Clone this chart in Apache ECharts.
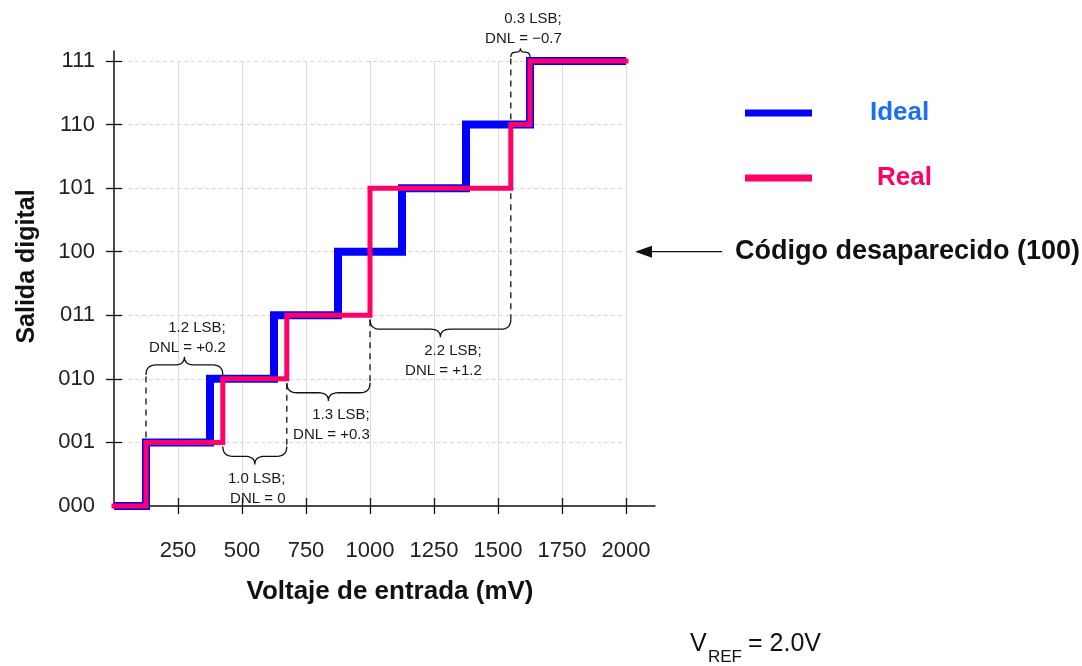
<!DOCTYPE html>
<html>
<head>
<meta charset="utf-8">
<script src="https://cdn.jsdelivr.net/npm/echarts@6/dist/echarts.min.js"></script>
<style>
html, body { margin: 0; padding: 0; background: #fff; }
#chart { width: 1082px; height: 666px; }
</style>
</head>
<body>
<div id="chart"></div>
<script>
// voltaje (mV) donde empieza cada codigo
const idealEdges = [0, 125, 375, 625, 875, 1125, 1375, 1625, 2000];
const idealCodes = [0, 1, 2, 3, 4, 5, 6, 7, 7];
const realEdges = [0, 125, 425, 675, 1000, 1550, 1625, 2000];
const realCodes = [0, 1, 2, 3, 5, 6, 7, 7];

const xTicks = [250, 500, 750, 1000, 1250, 1500, 1750, 2000];
const yTicks = [0, 1, 2, 3, 4, 5, 6, 7];
const codeLabels = ['000', '001', '010', '011', '100', '101', '110', '111'];

// anotaciones DNL: ancho de cada codigo real
const dnlFrom = [125, 425, 675, 1000, 1550];
const dnlTo = [425, 675, 1000, 1550, 1625];
const dnlCode = [1, 2, 3, 5, 6];
const dnlBase = [2, 1, 2, 3, 7];
const dnlLsb = ['1.2 LSB;', '1.0 LSB;', '1.3 LSB;', '2.2 LSB;', '0.3 LSB;'];
const dnlText = ['DNL = +0.2', 'DNL = 0', 'DNL = +0.3', 'DNL = +1.2', 'DNL = \u22120.7'];
const missingCode = 4;

const FONT = '"Liberation Sans", Arial, Helvetica, sans-serif';
const BLUE = '#0000ff';
const PINK = '#ff0066';

const chart = echarts.init(document.getElementById('chart'));

const option = {
    animation: false,
    backgroundColor: '#fff',
    textStyle: { fontFamily: FONT },
    grid: [
        { left: 114, top: 61, width: 512, height: 445 },
        { left: 114, top: 51, width: 541, height: 455 },
    ],
    legend: [
        {
            left: 745,
            top: 98,
            padding: 0,
            icon: 'rect',
            itemWidth: 67,
            itemHeight: 7,
            selectedMode: false,
            textStyle: { fontSize: 26, fontWeight: 'bold', lineHeight: 30 },
            data: [{
                name: 'Ideal',
                itemStyle: { color: BLUE },
                textStyle: { color: '#1a6ff2', padding: [0, 0, 0, 53] },
            }],
        },
        {
            left: 745,
            top: 163,
            padding: 0,
            icon: 'rect',
            itemWidth: 67,
            itemHeight: 7,
            selectedMode: false,
            textStyle: { fontSize: 26, fontWeight: 'bold', lineHeight: 30 },
            data: [{
                name: 'Real',
                itemStyle: { color: PINK },
                textStyle: { color: PINK, padding: [0, 0, 0, 60] },
            }],
        },
    ],
    xAxis: [
        {
            gridIndex: 0,
            type: 'value',
            min: 0,
            max: 2000,
            interval: 250,
            offset: -8,
            axisLine: { show: false },
            axisTick: {
                show: true,
                length: 16,
                customValues: xTicks,
                lineStyle: { color: '#111', width: 1.3 },
            },
            axisLabel: {
                customValues: xTicks,
                margin: 42,
                fontSize: 22,
                color: '#222',
                formatter: (v) => String(v),
            },
            splitLine: { show: true, lineStyle: { color: '#dcdcdc', width: 1 } },
            name: 'Voltaje de entrada (mV)',
            nameLocation: 'middle',
            nameGap: 81,
            nameTextStyle: {
                fontSize: 26,
                fontWeight: 'bold',
                color: '#111',
                padding: [0, 0, 0, 40],
            },
        },
        {
            gridIndex: 1,
            type: 'value',
            min: 0,
            max: 1,
            axisLine: { show: true, lineStyle: { color: '#111', width: 1.5 } },
            axisTick: { show: false },
            axisLabel: { show: false },
            splitLine: { show: false },
        },
    ],
    yAxis: [
        {
            gridIndex: 0,
            type: 'value',
            min: 0,
            max: 7,
            interval: 1,
            offset: -8,
            axisLine: { show: false },
            axisTick: {
                show: true,
                length: 16,
                customValues: yTicks.slice(1),
                lineStyle: { color: '#111', width: 1.3 },
            },
            axisLabel: {
                customValues: yTicks,
                margin: 27,
                fontSize: 22,
                color: '#222',
                formatter: (v) => codeLabels[v],
            },
            splitLine: {
                show: true,
                lineStyle: { color: '#d6d6d6', width: 1, type: [4, 3] },
            },
            name: 'Salida digital',
            nameLocation: 'middle',
            nameGap: 82,
            nameTextStyle: {
                fontSize: 25,
                fontWeight: 'bold',
                color: '#111',
                padding: [0, 0, 0, 34],
            },
        },
        {
            gridIndex: 1,
            type: 'value',
            min: 0,
            max: 1,
            axisLine: { show: true, lineStyle: { color: '#111', width: 1.5 } },
            axisTick: { show: false },
            axisLabel: { show: false },
            splitLine: { show: false },
        },
    ],
    series: [
        {
            name: 'Ideal',
            type: 'line',
            step: 'end',
            xAxisIndex: 0,
            yAxisIndex: 0,
            symbol: 'none',
            clip: false,
            color: BLUE,
            lineStyle: { color: BLUE, width: 8, join: 'miter', cap: 'butt' },
            data: idealEdges.map((x, i) => [x, idealCodes[i]]),
            z: 3,
        },
        {
            name: 'Real',
            type: 'line',
            step: 'end',
            xAxisIndex: 0,
            yAxisIndex: 0,
            symbol: 'none',
            clip: false,
            color: PINK,
            lineStyle: { color: PINK, width: 5, join: 'miter', cap: 'square' },
            data: realEdges.map((x, i) => [x, realCodes[i]]),
            z: 4,
        },
    ],
};

chart.setOption(option);

// ---- anotaciones (llaves, lineas de trazos, textos) ----
const px = (x, y) => chart.convertToPixel({ gridIndex: 0 }, [x, y]);
const measure = document.createElement('canvas').getContext('2d');
measure.font = '15px ' + FONT;

// curva cuadratica muestreada
function quad(pts, a, c, b) {
    for (let t = 0.125; t <= 1.0001; t += 0.125) {
        const u = 1 - t;
        pts.push([
            u * u * a[0] + 2 * u * t * c[0] + t * t * b[0],
            u * u * a[1] + 2 * u * t * c[1] + t * t * b[1],
        ]);
    }
}

function bracePoints(x1, x2, y0, dir, h) {
    const xm = (x1 + x2) / 2;
    const r = Math.min(10, (x2 - x1) / 4);
    const ym = y0 + dir * h * 0.55;
    const yt = y0 + dir * h;
    const pts = [[x1, y0]];
    quad(pts, [x1, y0], [x1, ym], [x1 + r, ym]);
    pts.push([xm - r, ym]);
    quad(pts, [xm - r, ym], [xm, ym], [xm, yt]);
    quad(pts, [xm, yt], [xm, ym], [xm + r, ym]);
    pts.push([x2 - r, ym]);
    quad(pts, [x2 - r, ym], [x2, ym], [x2, y0]);
    return pts;
}

const graphics = [];
dnlFrom.forEach((from, i) => {
    const up = dnlBase[i] > dnlCode[i];
    const dir = up ? -1 : 1;
    const p1 = px(from, dnlBase[i]);
    const p2 = px(dnlTo[i], dnlBase[i]);
    const y0 = p1[1] + dir * 4;
    const h = Math.min(18, (p2[0] - p1[0]) / 2.2);
    graphics.push({
        type: 'polyline',
        shape: { points: bracePoints(p1[0], p2[0], y0, dir, h) },
        style: { fill: null, stroke: '#111', lineWidth: 1.3 },
        z: 10,
    });
    // linea de trazos desde el escalon hasta la llave
    const dashX = up ? from : dnlTo[i];
    const d = px(dashX, dnlCode[i]);
    graphics.push({
        type: 'line',
        shape: { x1: d[0], y1: d[1] + dir * 5, x2: d[0], y2: y0 },
        style: { stroke: '#111', lineWidth: 1.3, lineDash: [6, 5] },
        z: 10,
    });
    const xm = (p1[0] + p2[0]) / 2;
    const w = measure.measureText(dnlText[i]).width;
    const yt = y0 + dir * h;
    graphics.push({
        type: 'text',
        x: xm + w / 2 + 3,
        y: up ? yt + 1 : yt + 4,
        style: {
            text: dnlLsb[i] + '\n' + dnlText[i],
            font: '15px ' + FONT,
            lineHeight: 20,
            fill: '#1a1a1a',
            align: 'right',
            verticalAlign: up ? 'bottom' : 'top',
        },
        z: 10,
    });
});

// flecha hacia el codigo desaparecido
const gridRight = px(2000, 0)[0];
const yMiss = px(0, missingCode)[1];
graphics.push({
    type: 'line',
    shape: { x1: gridRight + 24, y1: yMiss, x2: gridRight + 96, y2: yMiss },
    style: { stroke: '#111', lineWidth: 1.3 },
});
graphics.push({
    type: 'polygon',
    shape: {
        points: [
            [gridRight + 9, yMiss],
            [gridRight + 26, yMiss - 6],
            [gridRight + 26, yMiss + 6],
        ],
    },
    style: { fill: '#111' },
});
graphics.push({
    type: 'text',
    x: gridRight + 109,
    y: yMiss,
    style: {
        text: 'C\u00f3digo desaparecido (100)',
        font: 'bold 27px ' + FONT,
        fill: '#111',
        align: 'left',
        verticalAlign: 'middle',
    },
});

// V_REF
graphics.push({
    type: 'text', x: 690, y: 644,
    style: { text: 'V', font: '25px ' + FONT, fill: '#111', verticalAlign: 'middle' },
});
graphics.push({
    type: 'text', x: 708, y: 657,
    style: { text: 'REF', font: '17px ' + FONT, fill: '#111', verticalAlign: 'middle' },
});
graphics.push({
    type: 'text', x: 748, y: 644,
    style: { text: '= 2.0V', font: '25px ' + FONT, fill: '#111', verticalAlign: 'middle' },
});

chart.setOption({ graphic: graphics });
</script>
</body>
</html>
